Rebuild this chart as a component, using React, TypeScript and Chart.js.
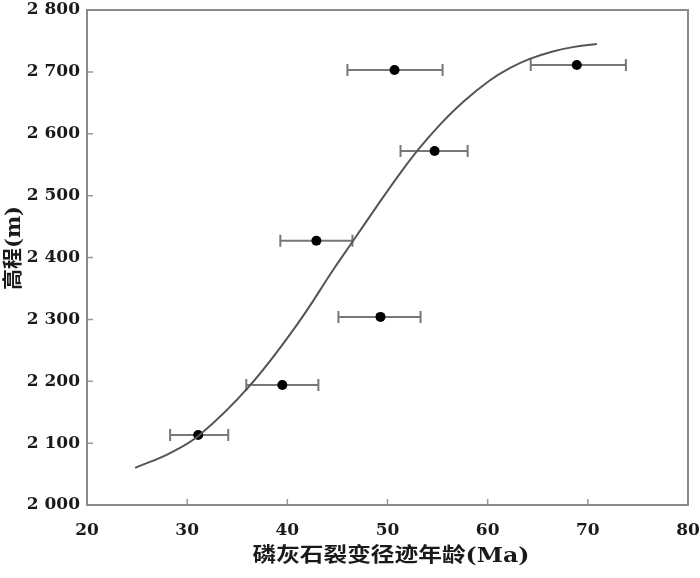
import React, { useEffect, useRef } from "react";
import { Chart, registerables } from "chart.js";

Chart.register(...registerables);

// Sample data
const ageMa = [31.1, 39.5, 42.9, 49.3, 54.7, 50.7, 68.9];
const elevation = [2113, 2194, 2427, 2304, 2572, 2703, 2711];
const ageLow = [28.3, 35.9, 39.3, 45.1, 51.3, 46.0, 64.3];
const ageHigh = [34.1, 43.1, 46.5, 53.3, 58.0, 55.5, 73.8];

// Fitted curve
const curveAge = [24.8, 28.3, 31.3, 36.1, 40.9, 44.7, 46.4, 49.2, 50.9, 53.1, 55.2, 57.6, 60.2, 62.2, 64.2, 66.5, 68.5, 70.9];
const curveElev = [2060, 2084, 2114, 2190, 2290, 2383, 2423, 2489, 2528, 2575, 2614, 2652, 2686, 2706, 2721, 2733, 2740, 2745];

const xTicks = [20, 30, 40, 50, 60, 70, 80];
const yTicks = [2000, 2100, 2200, 2300, 2400, 2500, 2600, 2700, 2800];

const xTitle = "磷灰石裂变径迹年龄(Ma)";
const yTitle = "高程(m)";

const AXIS_COLOR = "#8a8a8a";
const TEXT_COLOR = "#1a1a1a";
const TITLE_FONT = 'bold 20px "DejaVu Serif", "Noto Sans CJK SC"';

const decorPlugin = {
  id: "decor",
  beforeDatasetsDraw(chart: any) {
    const ctx = chart.ctx;
    const xs = chart.scales.x;
    const ys = chart.scales.y;
    ctx.save();
    ctx.strokeStyle = "#777";
    ctx.lineWidth = 2;
    for (let i = 0; i < ageMa.length; i++) {
      const y = ys.getPixelForValue(elevation[i]);
      const x1 = xs.getPixelForValue(ageLow[i]);
      const x2 = xs.getPixelForValue(ageHigh[i]);
      ctx.beginPath();
      ctx.moveTo(x1, y);
      ctx.lineTo(x2, y);
      ctx.moveTo(x1, y - 6);
      ctx.lineTo(x1, y + 6);
      ctx.moveTo(x2, y - 6);
      ctx.lineTo(x2, y + 6);
      ctx.stroke();
    }
    ctx.restore();
  },
  afterDraw(chart: any) {
    const ctx = chart.ctx;
    const { left, right, top, bottom } = chart.chartArea;
    const xs = chart.scales.x;
    const ys = chart.scales.y;
    ctx.save();
    ctx.strokeStyle = "#999";
    ctx.lineWidth = 1.5;
    ctx.beginPath();
    for (const v of xTicks) {
      const x = xs.getPixelForValue(v);
      ctx.moveTo(x, bottom);
      ctx.lineTo(x, bottom - 6);
    }
    for (const v of yTicks) {
      const y = ys.getPixelForValue(v);
      ctx.moveTo(left, y);
      ctx.lineTo(left + 6, y);
    }
    ctx.stroke();
    ctx.strokeStyle = AXIS_COLOR;
    ctx.lineWidth = 2;
    ctx.strokeRect(left, top, right - left, bottom - top);

    ctx.fillStyle = TEXT_COLOR;
    ctx.font = TITLE_FONT;
    ctx.textAlign = "center";
    ctx.textBaseline = "middle";
    const xw = ctx.measureText(xTitle).width;
    const xTarget = 277;
    ctx.save();
    ctx.translate(391, 557);
    ctx.scale(xTarget / xw, 1);
    ctx.fillText(xTitle, 0, 0);
    ctx.restore();
    const yw = ctx.measureText(yTitle).width;
    const yTarget = 84;
    ctx.save();
    ctx.translate(15, 248);
    ctx.rotate(-Math.PI / 2);
    ctx.scale(yTarget / yw, 1);
    ctx.fillText(yTitle, 0, 0);
    ctx.restore();
    ctx.restore();
  },
};

export default function App() {
  const canvasRef = useRef<HTMLCanvasElement | null>(null);

  useEffect(() => {
    document.body.style.margin = "0";
    const canvas = canvasRef.current;
    if (!canvas) return;
    const chart = new Chart(canvas, {
      type: "scatter",
      data: {
        datasets: [
          {
            label: "curve",
            data: curveAge.map((x, i) => ({ x, y: curveElev[i] })),
            showLine: true,
            borderColor: "#555",
            borderWidth: 2,
            pointRadius: 0,
            tension: 0.4,
            fill: false,
          } as any,
          {
            label: "samples",
            data: ageMa.map((x, i) => ({ x, y: elevation[i] })),
            pointRadius: 5,
            pointStyle: "circle",
            backgroundColor: "#000",
            borderColor: "#000",
            borderWidth: 0,
          },
        ],
      },
      options: {
        animation: false,
        responsive: false,
        devicePixelRatio: 1,
        layout: { padding: { top: 10, right: 12, left: 0, bottom: 0 } },
        plugins: { legend: { display: false }, tooltip: { enabled: false } },
        scales: {
          x: {
            type: "linear",
            min: 20,
            max: 80,
            afterBuildTicks: (s: any) => {
              s.ticks = xTicks.map((v) => ({ value: v }));
            },
            afterFit: (s: any) => {
              s.height = 73;
              s.paddingLeft = 0;
              s.paddingRight = 0;
            },
            grid: { display: false, drawTicks: false },
            border: { display: false },
            ticks: {
              font: { family: "DejaVu Serif", size: 17, weight: "bold" },
              color: TEXT_COLOR,
              padding: 15,
              maxRotation: 0,
              callback: (v: any) => String(v),
            },
          },
          y: {
            type: "linear",
            min: 2000,
            max: 2800,
            afterBuildTicks: (s: any) => {
              s.ticks = yTicks.map((v) => ({ value: v }));
            },
            afterFit: (s: any) => {
              s.width = 87;
              s.paddingTop = 0;
              s.paddingBottom = 0;
            },
            grid: { display: false, drawTicks: false },
            border: { display: false },
            ticks: {
              font: { family: "DejaVu Serif", size: 17, weight: "bold" },
              color: TEXT_COLOR,
              padding: 7,
              callback: (v: any) => {
                const s = String(v);
                return s.slice(0, 1) + " " + s.slice(1);
              },
            },
          },
        },
      },
      plugins: [decorPlugin],
    });
    return () => chart.destroy();
  }, []);

  return (
    <div style={{ position: "absolute", left: 0, top: 0, width: 700, height: 578, background: "#fff" }}>
      <canvas ref={canvasRef} width={700} height={578} style={{ width: 700, height: 578, display: "block" }} />
    </div>
  );
}
